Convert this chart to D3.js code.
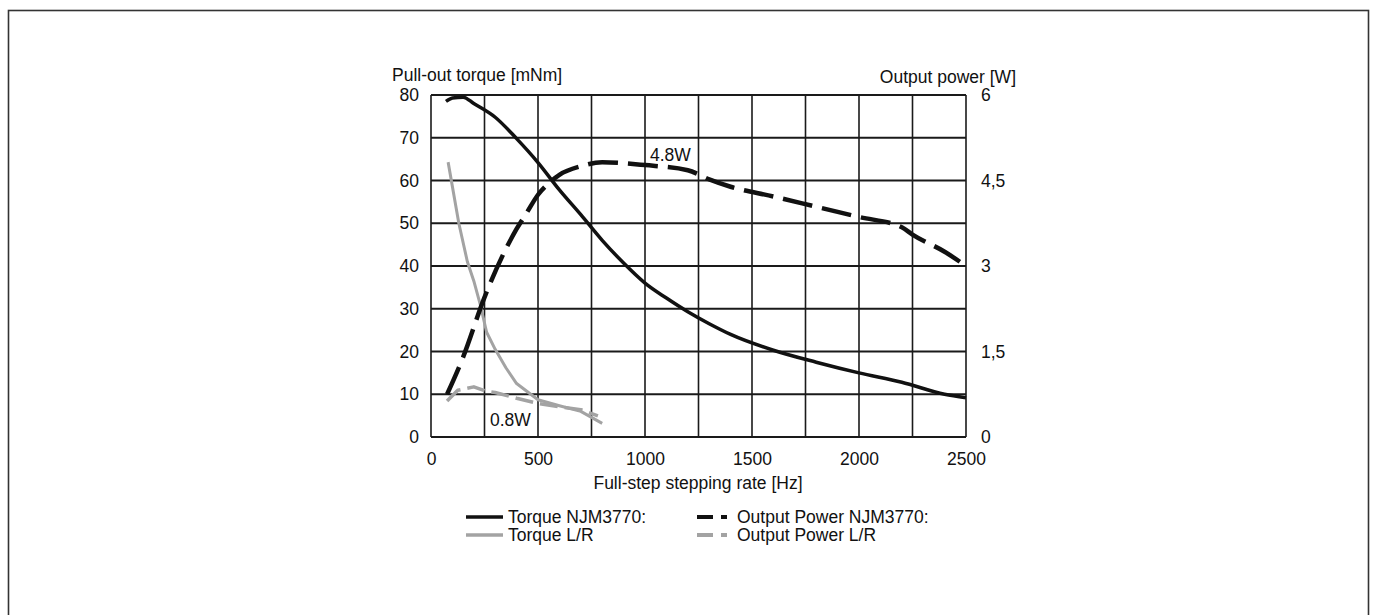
<!DOCTYPE html>
<html>
<head>
<meta charset="utf-8">
<script src="https://cdn.jsdelivr.net/npm/d3@7"></script>
<style>
  body { margin: 0; background: #fff; }
  text { font-family: "Liberation Sans", Arial, sans-serif; fill: #111; }
</style>
</head>
<body>
<svg id="chart"></svg>
<script>
// values
let torqueNjmHz = [70, 100, 150, 200, 300, 400, 500, 600, 700, 800, 900, 1000, 1100, 1200, 1300, 1400, 1600, 1800, 2000, 2200, 2400, 2500]
let torqueNjm = [78.5, 79.3, 79.5, 78, 74.8, 69.8, 64.2, 57.8, 52, 46, 40.7, 36, 32.5, 29.3, 26.5, 24, 20.3, 17.5, 15, 12.8, 10, 9.2]

let powerNjmHz = [75, 150, 250, 350, 400, 450, 500, 550, 600, 700, 800, 1000, 1200, 1300, 1400, 1600, 1800, 2000, 2200, 2250, 2400, 2500]
let powerNjm = [0.75, 1.4, 2.45, 3.3, 3.65, 3.95, 4.25, 4.45, 4.6, 4.75, 4.82, 4.77, 4.68, 4.52, 4.39, 4.22, 4.04, 3.86, 3.68, 3.55, 3.25, 3.0]

let torqueLrHz = [80, 130, 170, 200, 230, 260, 300, 350, 400, 500, 600, 700, 800]
let torqueLr = [64.3, 50, 41, 36.5, 31, 24.5, 20.5, 16.2, 12.5, 8.7, 7.3, 6, 3.2]

let powerLrHz = [75, 125, 200, 260, 300, 400, 500, 600, 700, 780]
let powerLr = [0.63, 0.82, 0.88, 0.8, 0.78, 0.68, 0.59, 0.53, 0.48, 0.37]

let xTicks = [0, 500, 1000, 1500, 2000, 2500]
let yTicks = [0, 10, 20, 30, 40, 50, 60, 70, 80]
let y2Ticks = [0, 1.5, 3, 4.5, 6]
let y2Labels = ['0', '1,5', '3', '4,5', '6']

let legendItems = [
    {name: 'Torque NJM3770:', color: '#111', dashed: false},
    {name: 'Torque L/R', color: '#a3a3a3', dashed: false},
    {name: 'Output Power NJM3770:', color: '#111', dashed: true},
    {name: 'Output Power L/R', color: '#a3a3a3', dashed: true}
]

let width = 1374
let height = 615
let plotLeft = 431, plotRight = 966, plotTop = 95, plotBottom = 437

let svg = d3.select('#chart').attr('width', width).attr('height', height)

// outer frame of the picture
svg.append('rect')
    .attr('x', 8.5).attr('y', 10.5)
    .attr('width', 1360).attr('height', 700)
    .attr('fill', 'none').attr('stroke', '#333').attr('stroke-width', 1.6)

let xScale = d3.scaleLinear().domain([0, 2500]).range([plotLeft, plotRight])
let yScale = d3.scaleLinear().domain([0, 80]).range([plotBottom, plotTop])
let y2Scale = d3.scaleLinear().domain([0, 6]).range([plotBottom, plotTop])

// grid, every 250 Hz and every 10 mNm
let grid = svg.append('g')
grid.selectAll('.vg')
    .data(d3.range(0, 2501, 250))
    .enter().append('line')
    .attr('x1', d => xScale(d)).attr('x2', d => xScale(d))
    .attr('y1', plotTop).attr('y2', plotBottom)
    .attr('stroke', '#1a1a1a').attr('stroke-width', 1.6)
grid.selectAll('.hg')
    .data(yTicks)
    .enter().append('line')
    .attr('x1', plotLeft).attr('x2', plotRight)
    .attr('y1', d => yScale(d)).attr('y2', d => yScale(d))
    .attr('stroke', '#1a1a1a').attr('stroke-width', 1.8)

// axes, only their labels are shown
let fs = '17.5px'
let xAxis = d3.axisBottom(xScale).tickValues(xTicks).tickSize(0).tickPadding(16)
    .tickFormat(d3.format('d'))
svg.append('g')
    .attr('transform', `translate(0, ${plotBottom})`)
    .call(xAxis)
    .call(g => g.select('.domain').remove())
    .selectAll('text').style('font-size', fs).attr('fill', '#111')

let yAxis = d3.axisLeft(yScale).tickValues(yTicks).tickSize(0).tickPadding(12)
svg.append('g')
    .attr('transform', `translate(${plotLeft}, 0)`)
    .call(yAxis)
    .call(g => g.select('.domain').remove())
    .selectAll('text').style('font-size', fs).attr('fill', '#111')

let y2Axis = d3.axisRight(y2Scale).tickValues(y2Ticks).tickSize(0).tickPadding(15)
    .tickFormat((d, i) => y2Labels[i])
svg.append('g')
    .attr('transform', `translate(${plotRight}, 0)`)
    .call(y2Axis)
    .call(g => g.select('.domain').remove())
    .selectAll('text').style('font-size', fs).attr('fill', '#111')

// axis titles
svg.append('text').attr('x', 392).attr('y', 81).style('font-size', fs).text('Pull-out torque [mNm]')
svg.append('text').attr('x', 1016).attr('y', 83).attr('text-anchor', 'end').style('font-size', fs).text('Output power [W]')
svg.append('text').attr('x', 698).attr('y', 489).attr('text-anchor', 'middle').style('font-size', fs).text('Full-step stepping rate [Hz]')

// curves
const drawCurve = (hz, vals, scale, color, w, dash, curve) => {
    let pts = hz.map((h, i) => [h, vals[i]])
    let line = d3.line()
        .x(d => xScale(d[0]))
        .y(d => scale(d[1]))
        .curve(curve)
    svg.append('path')
        .datum(pts)
        .attr('d', line)
        .attr('fill', 'none')
        .attr('stroke', color)
        .attr('stroke-width', w)
        .attr('stroke-dasharray', dash)
        .attr('stroke-linejoin', 'round')
}

drawCurve(torqueLrHz, torqueLr, yScale, '#a3a3a3', 3, null, d3.curveLinear)
drawCurve(powerLrHz, powerLr, y2Scale, '#a3a3a3', 3.5, '18,7', d3.curveLinear)
drawCurve(torqueNjmHz, torqueNjm, yScale, '#111', 3.5, null, d3.curveMonotoneX)
drawCurve(powerNjmHz, powerNjm, y2Scale, '#111', 4.5, '30,10', d3.curveMonotoneX)

// annotations
svg.append('text').attr('x', 650).attr('y', 161).style('font-size', fs).text('4.8W')
svg.append('text').attr('x', 490).attr('y', 426).style('font-size', fs).text('0.8W')

// legend
let legend = svg.append('g')
legendItems.forEach((item, i) => {
    let col = Math.floor(i / 2)
    let row = i % 2
    let x0 = col === 0 ? 466 : 697
    let yy = 517 + row * 18
    if (!item.dashed) {
        legend.append('line')
            .attr('x1', x0).attr('x2', x0 + 37)
            .attr('y1', yy).attr('y2', yy)
            .attr('stroke', item.color).attr('stroke-width', 3.5)
    } else {
        legend.append('line')
            .attr('x1', x0).attr('x2', x0 + 16)
            .attr('y1', yy).attr('y2', yy)
            .attr('stroke', item.color).attr('stroke-width', 4)
        legend.append('line')
            .attr('x1', x0 + 24).attr('x2', x0 + 30)
            .attr('y1', yy).attr('y2', yy)
            .attr('stroke', item.color).attr('stroke-width', 4)
    }
    legend.append('text')
        .attr('x', col === 0 ? 508 : 737)
        .attr('y', yy + 6)
        .style('font-size', fs)
        .text(item.name)
})
</script>
</body>
</html>
